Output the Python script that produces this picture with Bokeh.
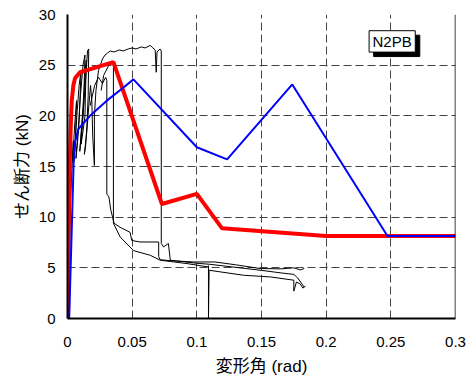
from bokeh.plotting import figure
from bokeh.models import Range1d, FixedTicker, NumeralTickFormatter, Span
from bokeh.core.properties import value
from bokeh.embed import file_html
from bokeh.resources import INLINE

# ---- data ----
x_ticks = [0, 0.05, 0.1, 0.15, 0.2, 0.25, 0.3]
y_ticks = [0, 5, 10, 15, 20, 25, 30]

red_x = [0.0004, 0.0008, 0.0015, 0.0025, 0.0033, 0.0045, 0.0058, 0.0097, 0.0355, 0.073, 0.100, 0.1195, 0.200, 0.300]
red_y = [0, 8, 14, 19, 21.5, 23, 23.7, 24.3, 25.3, 11.3, 12.3, 8.9, 8.15, 8.15]

blue_x = [0.0013, 0.0048, 0.0058, 0.0084, 0.0174, 0.0304, 0.0433, 0.051, 0.100, 0.1234, 0.1738, 0.2474, 0.300]
blue_y = [0, 15.6, 17.4, 18.7, 20.0, 21.5, 22.8, 23.6, 16.9, 15.7, 23.1, 8.15, 8.15]

# experimental trace, part A: cycles then plateau and drop
exp_a_x = [0.0005, 0.0015, 0.0025, 0.0035, 0.0045, 0.004, 0.0055, 0.007, 0.006, 0.005, 0.0075, 0.009,
           0.0105, 0.009, 0.0075, 0.0065, 0.0085, 0.010, 0.012, 0.0135, 0.0125, 0.0105, 0.0095, 0.0115,
           0.0135, 0.0145, 0.0135, 0.012, 0.0105, 0.0125, 0.0145, 0.0155, 0.0164, 0.0160,
           0.0150, 0.0140, 0.0130, 0.0150, 0.0165, 0.0178, 0.0188, 0.0195, 0.0208, 0.0208, 0.022, 0.024,
           0.027, 0.029, 0.031, 0.033, 0.036, 0.040, 0.043, 0.047, 0.050, 0.053, 0.057, 0.060, 0.064,
           0.066, 0.0678, 0.0686, 0.0692, 0.0715, 0.0725,
           0.0725, 0.0743, 0.078, 0.0795, 0.090, 0.100, 0.110, 0.130, 0.150, 0.165, 0.175, 0.178, 0.183]
exp_a_y = [0, 6, 12, 15, 17.5, 15.5, 19, 21.5, 17, 15.5, 20.5, 23,
           24.5, 19.5, 17, 15.8, 19, 22, 25, 26, 21, 18, 16.5, 20,
           24, 25.5, 20, 18.5, 17.2, 21, 24.5, 26.4, 26.6, 22,
           19, 17, 16.2, 18.5, 21, 23, 21.5, 18, 15.1, 20, 22.5, 24.5,
           25.6, 26.0, 26.2, 26.4, 26.3, 26.5, 26.4, 26.6, 26.7, 26.6, 26.8, 26.7, 26.95,
           26.7, 26.5, 24.3, 26.3, 26.6, 26.4,
           7.4, 7.06, 7.4, 5.75, 5.6, 5.45, 5.35, 5.05, 4.75, 4.5, 4.35, 4.0, 3.1]

# part B: drop at ~0.030 rad and upper decay branch
exp_b_x = [0.0175, 0.021, 0.024, 0.027, 0.0295, 0.0304, 0.0304, 0.032, 0.0335, 0.036, 0.0407, 0.0484,
           0.0497, 0.056, 0.0705, 0.0705, 0.0717, 0.080, 0.0975, 0.114, 0.130, 0.149, 0.165, 0.175,
           0.180, 0.183]
exp_b_y = [21, 23, 23.8, 23.2, 23.8, 23.5, 12.3, 12.0, 10.7, 9.4, 9.0, 8.5,
           7.7, 7.55, 7.55, 6.1, 5.8, 5.7, 5.58, 5.58, 5.3, 4.93, 4.9, 5.0,
           4.8, 4.93]

# part C: drop at ~0.035 rad and lower decay branch
exp_c_x = [0.026, 0.028, 0.032, 0.0355, 0.0355, 0.0407, 0.051, 0.064, 0.0717, 0.0924, 0.108, 0.109,
           0.109, 0.1095, 0.136, 0.157, 0.175, 0.175, 0.177, 0.180, 0.182, 0.184]
exp_c_y = [22.5, 24, 25, 25.3, 9.4, 8.05, 6.7, 6.24, 5.75, 5.42, 5.1, 5.2,
           0, 4.76, 4.27, 4.1, 3.78, 2.7, 3.6, 3.4, 3.0, 3.2]

label_text = "N2PB"
label_x = 0.251
label_y = 27.35
box_l, box_r, box_b, box_t = 0.2332, 0.2689, 26.29, 28.40
shadow_dx, shadow_dy = 0.0035, 0.44

FONT = "Liberation Sans"
JFONT = "Liberation Sans, Noto Sans CJK JP"

p = figure(width=470, height=380, output_backend="svg", toolbar_location=None,
           x_range=Range1d(0, 0.3), y_range=Range1d(0, 30),
           min_border_left=67, min_border_right=15, min_border_top=14, min_border_bottom=62)
p.background_fill_color = "white"
p.border_fill_color = "white"
p.outline_line_color = None

for ax in (p.xaxis[0], p.yaxis[0]):
    ax.major_tick_in = 0
    ax.major_tick_out = 0
    ax.minor_tick_in = 0
    ax.minor_tick_out = 0
    ax.axis_line_color = "black"
    ax.axis_line_width = 2
    ax.major_label_text_font = FONT
    ax.major_label_text_font_size = "15px"
    ax.major_label_text_color = "black"
    ax.axis_label_text_font = JFONT
    ax.axis_label_text_font_size = "17px"
    ax.axis_label_text_font_style = "normal"
    ax.axis_label_text_color = "black"

p.xaxis.ticker = FixedTicker(ticks=x_ticks)
p.yaxis.ticker = FixedTicker(ticks=y_ticks)
p.xaxis.formatter = NumeralTickFormatter(format="0.[00]")
p.xaxis.major_label_standoff = 18
p.yaxis.major_label_standoff = 12
p.xaxis.axis_label = "変形角 (rad)"
p.yaxis.axis_label = "せん断力 (kN)"
p.xaxis.axis_label_standoff = 7
p.yaxis.axis_label_standoff = 4

for g in (p.xgrid[0], p.ygrid[0]):
    g.grid_line_color = "#444444"
    g.grid_line_dash = "8 4"
    g.grid_line_width = 1

p.add_layout(Span(location=0.3, dimension="height", line_color="black", line_width=1.5))

p.line(exp_a_x, exp_a_y, line_color="black", line_width=1)
p.line(exp_b_x, exp_b_y, line_color="black", line_width=1)
p.line(exp_c_x, exp_c_y, line_color="black", line_width=1)
p.line(red_x, red_y, line_color="#ff0000", line_width=4)
p.line(blue_x, blue_y, line_color="#0000ff", line_width=2)

p.quad(left=[box_l + shadow_dx], right=[box_r + shadow_dx], bottom=[box_b - shadow_dy], top=[box_t - shadow_dy],
       fill_color="black", line_color="black")
p.quad(left=[box_l], right=[box_r], bottom=[box_b], top=[box_t],
       fill_color="white", line_color="black", line_width=1)
p.text(x=[label_x], y=[label_y], text=[label_text], text_font=value(FONT), text_font_size="15px",
       text_align="center", text_baseline="middle", text_color="black")

open("out.html", "w").write(file_html(p, INLINE))
